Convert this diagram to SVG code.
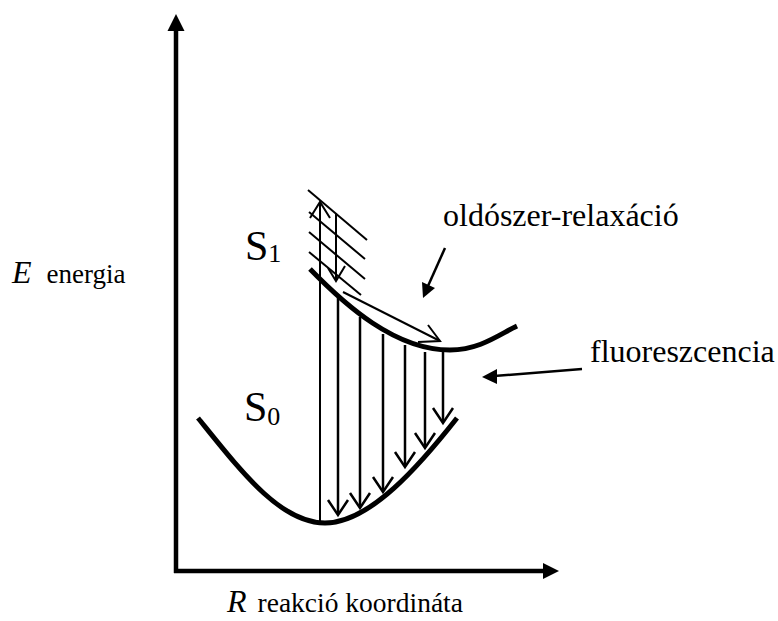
<svg xmlns="http://www.w3.org/2000/svg" width="778" height="621" viewBox="0 0 778 621">
<style>
.lbl{font-size:27px}
.lbl3{font-size:27.5px}
.lbl2{font-size:32px}
.big{font-size:42px}
.sub{font-size:26px}
.it{font-style:italic;font-size:32px}
.thin{stroke:#000;stroke-width:2;fill:none}
.mid{stroke:#000;stroke-width:2.5;fill:none}
.thick{stroke:#000;stroke-width:5;fill:none;stroke-linecap:butt}
.axis{stroke:#000;stroke-width:4.5;fill:none}
</style>
<rect width="778" height="621" fill="#fff"/>
<g id="axes">
<line class="axis" x1="176" y1="28" x2="176" y2="573"/>
<line class="axis" x1="174" y1="571" x2="545" y2="571"/>
<polygon points="176,14 167.5,31 184.5,31" fill="#000"/>
<polygon points="559,571 543,563 543,579" fill="#000"/>
</g>
<g id="S1-curve"><path class="thick" d="M310,269 C345,305 395,350 450,350 C480,350 500,334 517,326"/></g>
<g id="S0-curve"><path class="thick" d="M198,418 C240,470 280,523 325,523 C370,523 420,465 457,418"/></g>
<g id="connectors">
<g id="hatch" class="thin">
<line x1="308" y1="190" x2="367" y2="240"/>
<line x1="309" y1="212" x2="365" y2="259"/>
<line x1="309" y1="232" x2="365" y2="279"/>
<line x1="309" y1="252" x2="361" y2="295"/>
</g>
<g id="absorption" class="thin">
<line x1="320" y1="523" x2="320" y2="203"/>
<polyline points="310,218 320,202 330,218"/>
</g>
<g id="vib-relax" class="thin">
<line x1="336" y1="213" x2="336" y2="280"/>
<polyline points="328,268 336,281 345,266"/>
</g>
<g id="solvent-relax" class="thin">
<line x1="343" y1="292" x2="440" y2="341"/>
<polyline points="428,325 440,341 418,342"/>
</g>
<g id="fluorescence" class="mid">
<line x1="338" y1="298" x2="338" y2="514"/><polyline points="328,500 338,515 348,500"/>
<line x1="360" y1="317" x2="360" y2="507"/><polyline points="350,493 360,508 370,493"/>
<line x1="383" y1="334" x2="383" y2="491"/><polyline points="373,477 383,492 393,477"/>
<line x1="405" y1="345" x2="405" y2="466"/><polyline points="395,452 405,467 415,452"/>
<line x1="425" y1="352" x2="425" y2="447"/><polyline points="415,433 425,448 435,433"/>
<line x1="443" y1="352" x2="443" y2="422"/><polyline points="433,408 443,423 453,408"/>
</g>
<g id="pointer-solvent">
<line class="mid" x1="445" y1="248" x2="428" y2="286"/>
<polygon points="423,298 422,282 435,288" fill="#000"/>
</g>
<g id="pointer-fluor">
<line class="mid" x1="582" y1="369" x2="494" y2="376"/>
<polygon points="482,377 497,369 497,384" fill="#000"/>
</g>
</g>
<g id="labels" font-family="'Liberation Serif', 'DejaVu Serif', serif" fill="#000">
<text x="12" y="283"><tspan class="it">E</tspan><tspan class="lbl" dx="15">energia</tspan></text>
<text x="227" y="612"><tspan class="it">R</tspan><tspan class="lbl3" dx="11">reakció koordináta</tspan></text>
<text x="245" y="260"><tspan class="big">S</tspan><tspan class="sub" dy="2">1</tspan></text>
<text x="244" y="421"><tspan class="big">S</tspan><tspan class="sub" dy="4">0</tspan></text>
<text class="lbl2" x="443" y="226">oldószer-relaxáció</text>
<text class="lbl2" x="590" y="362">fluoreszcencia</text>
</g>
</svg>
